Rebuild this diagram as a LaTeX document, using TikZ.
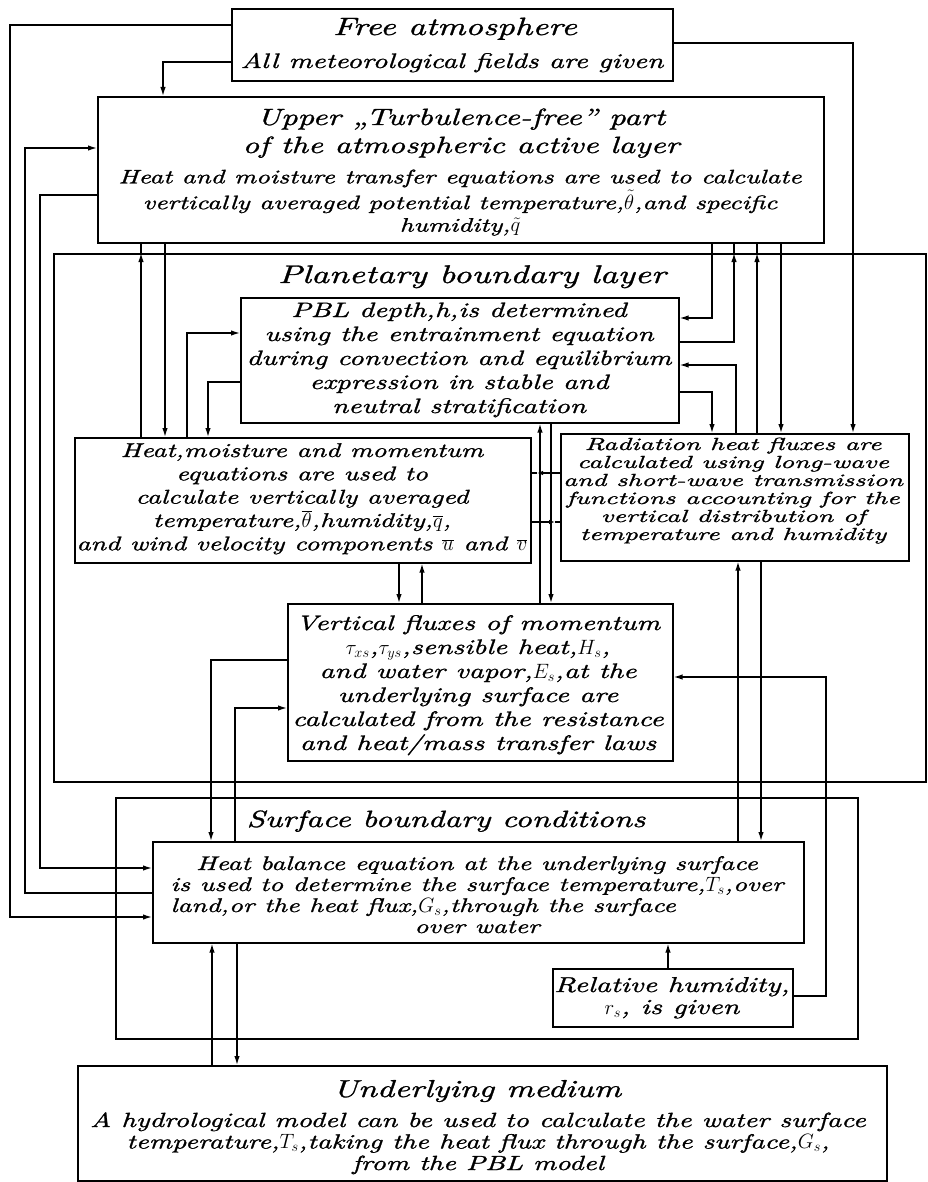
\documentclass[tikz,border=0pt]{standalone}
\usepackage{fontspec}
\newfontfamily\df{lmroman10-italic.otf}[FakeStretch=1.38,FakeBold=1.2]
\newfontfamily\dfw{lmroman10-italic.otf}[FakeStretch=1.56,FakeBold=1.2]
\usetikzlibrary{arrows.meta}
\tikzset{
  obox/.style={draw, line width=2.4pt, anchor=north west, inner sep=0pt},
  ibox/.style={draw, line width=1.6pt, anchor=north west, inner sep=0pt},
  conn/.style={line width=1.4pt},
  arr/.style={-{Latex[length=9pt,width=5.5pt]}},
  sarr/.style={-{Latex[length=6pt,width=4.5pt]}},
  txt/.style={inner sep=0pt, outer sep=0pt, font=\df},
}
\newcommand\fs[2]{\fontsize{#1}{#2}\selectfont}
\begin{document}
\begin{tikzpicture}[x=1pt,y=-1pt]
\useasboundingbox (0,0) rectangle (927,1182);
% boxes
\node[obox, minimum width=441pt, minimum height=72pt] (fa) at (231,8) {};
\node[obox, minimum width=726pt, minimum height=146pt] (ub) at (97,96) {};
\node[obox, minimum width=872pt, minimum height=528pt] (pbl) at (53,253) {};
\node[ibox, minimum width=438pt, minimum height=125pt] (dep) at (240,297) {};
\node[ibox, minimum width=456pt, minimum height=125pt] (hmm) at (74,437) {};
\node[ibox, minimum width=348pt, minimum height=127pt] (rad) at (560,433) {};
\node[ibox, minimum width=385pt, minimum height=157pt] (vf) at (287,603) {};
\node[obox, minimum width=742pt, minimum height=241pt] (sbc) at (115,797) {};
\node[ibox, minimum width=651pt, minimum height=101pt] (hb) at (152,841) {};
\node[ibox, minimum width=240pt, minimum height=58pt] (rh) at (552,968) {};
\node[obox, minimum width=809pt, minimum height=115pt] (um) at (77,1065) {};
% texts
\node[txt, anchor=base] (fa-t) at (455,35) {\fs{25}{30}Free atmosphere};
\node[txt, anchor=base] (fa-s) at (452,68) {\fs{21}{22}All meteorological fields are given};
\node[txt] (ub-t) at (461,133.4) {\fs{23.5}{28}\begin{tabular}{@{}c@{}}Upper „Turbulence-free” part\\of the atmospheric active layer\end{tabular}};
\node[txt] (ub-b) at (460,203) {\fs{19.5}{22.5}\begin{tabular}{@{}c@{}}Heat and moisture transfer equations are used to calculate\\vertically averaged potential temperature,$\tilde\theta$,and specific\\humidity,$\tilde q$\end{tabular}};
\node[txt, anchor=base] (pbl-t) at (472,283) {\fs{25.5}{30}Planetary boundary layer};
\node[txt] (dep-t) at (459,360.2) {\fs{20.8}{24}\begin{tabular}{@{}c@{}}PBL depth,h,is determined\\using the entrainment equation\\during convection and equilibrium\\expression in stable and\\neutral stratification\end{tabular}};
\node[txt] (hmm-t) at (302,499) {\fs{19.9}{23.3}\begin{tabular}{@{}c@{}}Heat,moisture and momentum\\equations are used to\\calculate vertically averaged\\temperature,$\overline{\theta}$,humidity,$\overline{q}$,\\and wind velocity components $\overline{u}$ and $\overline{v}$\end{tabular}};
\node[txt, font=\dfw] (rad-t) at (733,491.4) {\fs{17.5}{18}\begin{tabular}{@{}c@{}}Radiation heat fluxes are\\calculated using long-wave\\and short-wave transmission\\functions accounting for the\\vertical distribution of\\temperature and humidity\end{tabular}};
\node[txt] (vf-t) at (478,685.2) {\fs{21}{24}\begin{tabular}{@{}c@{}}Vertical fluxes of momentum\\$\tau_{xs}$,$\tau_{ys}$,sensible heat,$H_s$,\\and water vapor,$E_s$,at the\\underlying surface are\\calculated from the resistance\\and heat/mass transfer laws\end{tabular}};
\node[txt, anchor=base] (sbc-t) at (446,827) {\fs{23.5}{28}Surface boundary conditions};
\node[txt] (hb-t) at (477,897.3) {\fs{19.7}{21}\begin{tabular}{@{}c@{}}Heat balance equation at the underlying surface\\is used to determine the surface temperature,$T_s$,over\\\multicolumn{1}{@{}l@{}}{land,or the heat flux,$G_s$,through the surface}\\over water\end{tabular}};
\node[txt] (rh-t) at (672,998.6) {\fs{21.5}{22}\begin{tabular}{@{}c@{}}Relative humidity,\\$r_s$, is given\end{tabular}};
\node[txt, anchor=base] (um-t) at (477,1097) {\fs{24.5}{30}Underlying medium};
\node[txt] (um-b) at (478,1144.2) {\fs{20.5}{21.5}\begin{tabular}{@{}c@{}}A hydrological model can be used to calculate the water surface\\temperature,$T_s$,taking the heat flux through the surface,$G_s$,\\from the PBL model\end{tabular}};
% connectors
\draw[conn,arr] (fa.west |- 0,25) -| (10,917) -- (hb.west |- 0,917);
\draw[conn,arr] (hb.west |- 0,893) -| (25,148) -- (ub.west |- 0,148);
\draw[conn,arr] (ub.west |- 0,195) -| (40,868) -- (hb.west |- 0,868);
\draw[conn,arr] (fa.west |- 0,62) -| (ub.north -| 163,0);
\draw[conn,arr] (fa.east |- 0,43) -| (rad.north -| 853,0);
\draw[conn,arr] (hmm.north -| 141,0) -- (pbl.north -| 141,0);
\draw[conn] (pbl.north -| 141,0) -- (ub.south -| 141,0);
\draw[conn,arr] (ub.south -| 165,0) -- (hmm.north -| 165,0);
\draw[conn,arr] (hmm.north -| 187,0) |- (dep.west |- 0,333);
\draw[conn,arr] (dep.west |- 0,382) -| (hmm.north -| 208,0);
\draw[conn,arr] (ub.south -| 712,0) |- (dep.east |- 0,318);
\draw[conn,arr] (dep.east |- 0,342) -| (pbl.north -| 734,0);
\draw[conn] (pbl.north -| 734,0) -- (ub.south -| 734,0);
\draw[conn,arr] (rad.north -| 736,0) |- (dep.east |- 0,365);
\draw[conn,arr] (rad.north -| 757,0) -- (pbl.north -| 757,0);
\draw[conn] (pbl.north -| 757,0) -- (ub.south -| 757,0);
\draw[conn,arr] (ub.south -| 781,0) -- (rad.north -| 781,0);
\draw[conn,arr] (dep.east |- 0,392) -| (rad.north -| 712,0);
\coordinate (m1) at (537,473);
\coordinate (m2) at (555,522);
\draw[conn,sarr] (rad.west |- 0,473) -- (m1);
\draw[conn] (m1) -- (hmm.east |- 0,473);
\draw[conn,sarr] (hmm.east |- 0,522) -- (m2);
\draw[conn] (m2) -- (rad.west |- 0,522);
\draw[conn,arr] (vf.north -| 540,0) -- (dep.south -| 540,0);
\draw[conn,arr] (dep.south -| 551,0) -- (vf.north -| 551,0);
\draw[conn,arr] (hmm.south -| 399,0) -- (vf.north -| 399,0);
\draw[conn,arr] (vf.north -| 422,0) -- (hmm.south -| 422,0);
\draw[conn,arr] (vf.west |- 0,660) -| (hb.north -| 211,0);
\draw[conn,arr] (hb.north -| 235,0) |- (vf.west |- 0,708);
\draw[conn,arr] (rh.east |- 0,996) -| (826,677) -- (vf.east |- 0,677);
\draw[conn,arr] (hb.north -| 738,0) -- (rad.south -| 738,0);
\draw[conn,arr] (rad.south -| 761,0) -- (hb.north -| 761,0);
\draw[conn,arr] (rh.north -| 668,0) -- (hb.south -| 668,0);
\draw[conn,arr] (um.north -| 212,0) -- (hb.south -| 212,0);
\draw[conn,arr] (hb.south -| 237,0) -- (um.north -| 237,0);
\end{tikzpicture}
\end{document}
